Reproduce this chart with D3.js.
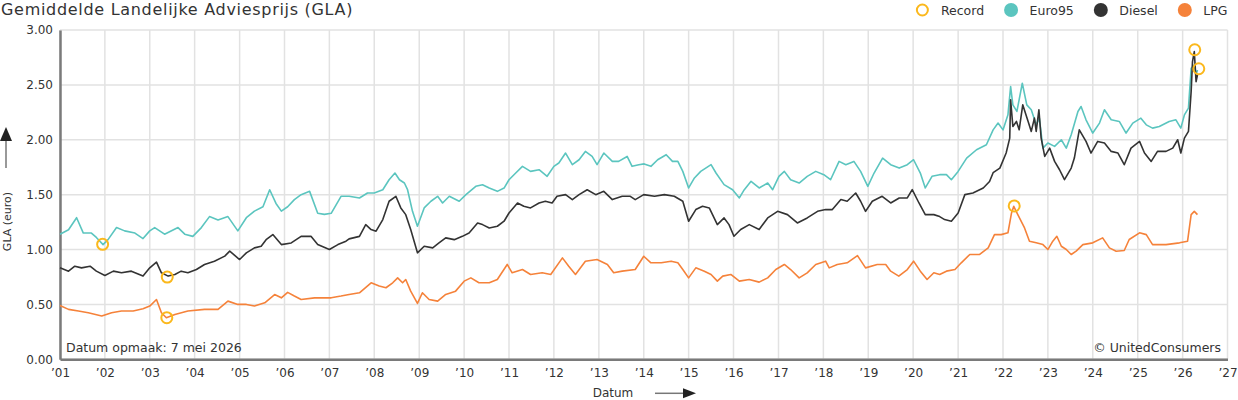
<!DOCTYPE html>
<html>
<head>
<meta charset="utf-8">
<script src="https://cdn.jsdelivr.net/npm/d3@7.9.0/dist/d3.min.js"></script>
<style>
  body { margin: 0; background: #fff; }
  svg { font-family: "DejaVu Sans", sans-serif; display: block; }
</style>
</head>
<body>
<svg id="chart" width="1238" height="400"></svg>
<script>
// values, [decimal year, price in euro]
const euro95 = [
  [2001.00,1.14],[2001.19,1.18],[2001.37,1.29],[2001.52,1.15],[2001.70,1.15],[2001.81,1.11],[2001.96,1.045],
  [2002.07,1.09],[2002.26,1.20],[2002.44,1.17],[2002.67,1.15],[2002.85,1.10],[2003.00,1.17],[2003.11,1.20],
  [2003.33,1.14],[2003.63,1.20],[2003.78,1.14],[2003.96,1.12],[2004.15,1.20],[2004.33,1.30],[2004.52,1.27],
  [2004.74,1.30],[2004.96,1.17],[2005.15,1.29],[2005.33,1.35],[2005.52,1.39],[2005.67,1.545],[2005.81,1.42],
  [2005.93,1.35],[2006.07,1.39],[2006.22,1.455],[2006.37,1.50],[2006.56,1.53],[2006.74,1.33],[2006.89,1.32],
  [2007.04,1.33],[2007.26,1.485],[2007.44,1.485],[2007.67,1.47],[2007.85,1.515],[2008.00,1.515],[2008.19,1.545],
  [2008.33,1.636],[2008.46,1.697],[2008.56,1.636],[2008.67,1.606],[2008.74,1.545],[2008.85,1.348],[2008.96,1.212],
  [2009.11,1.379],[2009.26,1.44],[2009.41,1.485],[2009.52,1.424],[2009.67,1.485],[2009.89,1.44],[2010.04,1.50],
  [2010.26,1.576],[2010.41,1.59],[2010.56,1.56],[2010.74,1.53],[2010.89,1.56],[2011.00,1.636],[2011.15,1.697],
  [2011.30,1.758],[2011.48,1.712],[2011.67,1.727],[2011.85,1.667],[2012.00,1.758],[2012.11,1.788],[2012.26,1.879],
  [2012.41,1.773],[2012.56,1.818],[2012.70,1.894],[2012.85,1.848],[2012.96,1.773],[2013.11,1.879],[2013.30,1.803],
  [2013.44,1.803],[2013.63,1.848],[2013.74,1.758],[2013.89,1.773],[2014.01,1.78],[2014.16,1.758],[2014.31,1.818],
  [2014.50,1.864],[2014.64,1.803],[2014.76,1.803],[2014.87,1.712],[2015.00,1.561],[2015.13,1.652],[2015.27,1.712],
  [2015.50,1.773],[2015.61,1.697],[2015.79,1.591],[2015.98,1.545],[2016.13,1.47],[2016.24,1.545],[2016.39,1.621],
  [2016.57,1.561],[2016.76,1.606],[2016.87,1.545],[2017.01,1.667],[2017.13,1.712],[2017.27,1.636],[2017.46,1.606],
  [2017.64,1.667],[2017.83,1.712],[2018.01,1.682],[2018.16,1.636],[2018.35,1.803],[2018.50,1.773],[2018.68,1.803],
  [2018.83,1.712],[2018.99,1.576],[2019.13,1.697],[2019.32,1.833],[2019.50,1.773],[2019.69,1.742],[2019.87,1.773],
  [2020.01,1.818],[2020.16,1.697],[2020.27,1.561],[2020.42,1.667],[2020.59,1.682],[2020.74,1.682],[2020.85,1.636],
  [2021.00,1.712],[2021.19,1.833],[2021.41,1.909],[2021.63,1.955],[2021.78,2.09],[2021.89,2.152],[2022.00,2.09],
  [2022.11,2.227],[2022.17,2.485],[2022.22,2.318],[2022.31,2.258],[2022.43,2.515],[2022.53,2.318],[2022.63,2.273],
  [2022.74,2.136],[2022.81,2.197],[2022.89,1.924],[2023.00,1.97],[2023.15,1.94],[2023.30,2.0],[2023.41,1.924],
  [2023.52,2.045],[2023.67,2.258],[2023.74,2.303],[2023.85,2.182],[2024.00,2.061],[2024.15,2.152],[2024.26,2.273],
  [2024.41,2.182],[2024.59,2.167],[2024.74,2.061],[2024.89,2.152],[2025.07,2.197],[2025.19,2.136],[2025.33,2.106],
  [2025.48,2.121],[2025.70,2.167],[2025.85,2.182],[2025.96,2.106],[2026.04,2.227],[2026.13,2.288],[2026.19,2.652],
  [2026.26,2.682],[2026.30,2.591],[2026.33,2.636]
];
const diesel = [
  [2001.00,0.833],[2001.19,0.803],[2001.33,0.848],[2001.48,0.833],[2001.67,0.848],[2001.81,0.803],[2002.00,0.764],
  [2002.19,0.803],[2002.37,0.788],[2002.59,0.803],[2002.85,0.758],[2003.00,0.833],[2003.15,0.885],[2003.26,0.788],
  [2003.41,0.758],[2003.56,0.773],[2003.70,0.803],[2003.85,0.788],[2004.04,0.818],[2004.22,0.864],[2004.44,0.894],
  [2004.67,0.94],[2004.78,0.985],[2005.00,0.909],[2005.15,0.97],[2005.33,1.015],[2005.48,1.03],[2005.59,1.09],
  [2005.74,1.136],[2005.93,1.045],[2006.15,1.06],[2006.37,1.12],[2006.59,1.12],[2006.74,1.045],[2007.00,1.0],
  [2007.19,1.045],[2007.37,1.076],[2007.44,1.097],[2007.67,1.12],[2007.81,1.227],[2007.93,1.182],[2008.04,1.167],
  [2008.19,1.273],[2008.33,1.44],[2008.48,1.485],[2008.59,1.379],[2008.70,1.318],[2008.81,1.182],[2008.96,0.97],
  [2009.11,1.03],[2009.30,1.015],[2009.44,1.06],[2009.59,1.106],[2009.78,1.09],[2009.96,1.12],[2010.11,1.15],
  [2010.30,1.242],[2010.41,1.227],[2010.56,1.197],[2010.74,1.212],[2010.89,1.258],[2011.00,1.333],[2011.19,1.424],
  [2011.33,1.394],[2011.48,1.379],[2011.67,1.424],[2011.81,1.44],[2011.96,1.424],[2012.07,1.485],[2012.26,1.50],
  [2012.41,1.455],[2012.56,1.50],[2012.74,1.545],[2012.93,1.50],[2013.11,1.53],[2013.30,1.455],[2013.52,1.485],
  [2013.70,1.485],[2013.81,1.455],[2014.00,1.50],[2014.24,1.485],[2014.46,1.50],[2014.68,1.485],[2014.87,1.44],
  [2015.00,1.258],[2015.16,1.364],[2015.31,1.394],[2015.46,1.379],[2015.64,1.227],[2015.79,1.288],[2015.90,1.227],
  [2016.01,1.121],[2016.16,1.182],[2016.35,1.227],[2016.57,1.182],[2016.76,1.288],[2016.98,1.348],[2017.20,1.318],
  [2017.42,1.242],[2017.64,1.288],[2017.87,1.348],[2018.05,1.364],[2018.20,1.364],[2018.39,1.455],[2018.53,1.44],
  [2018.72,1.515],[2018.83,1.44],[2018.94,1.348],[2019.09,1.44],[2019.31,1.485],[2019.50,1.424],[2019.69,1.47],
  [2019.87,1.47],[2019.98,1.545],[2020.13,1.424],[2020.27,1.318],[2020.46,1.318],[2020.59,1.30],[2020.70,1.273],
  [2020.85,1.258],[2021.00,1.333],[2021.15,1.5],[2021.33,1.515],[2021.56,1.561],[2021.70,1.62],[2021.78,1.70],
  [2021.93,1.742],[2022.07,1.879],[2022.15,2.015],[2022.17,2.364],[2022.22,2.121],[2022.30,2.167],[2022.36,2.091],
  [2022.44,2.318],[2022.56,2.167],[2022.63,2.076],[2022.70,2.197],[2022.74,2.076],[2022.80,2.273],[2022.85,2.015],
  [2022.93,1.848],[2023.04,1.924],[2023.15,1.803],[2023.26,1.727],[2023.37,1.636],[2023.52,1.742],[2023.59,1.833],
  [2023.70,2.091],[2023.85,1.985],[2023.96,1.879],[2024.11,1.985],[2024.26,1.97],[2024.41,1.894],[2024.56,1.879],
  [2024.70,1.773],[2024.85,1.924],[2025.04,1.985],[2025.15,1.879],[2025.30,1.803],[2025.44,1.894],[2025.63,1.894],
  [2025.78,1.924],[2025.89,2.0],[2025.96,1.879],[2026.04,2.015],[2026.13,2.076],[2026.19,2.44],[2026.22,2.712],
  [2026.26,2.803],[2026.30,2.53],[2026.33,2.59]
];
const lpg = [
  [2001.00,0.491],[2001.19,0.455],[2001.41,0.44],[2001.63,0.424],[2001.93,0.394],[2002.15,0.424],[2002.37,0.44],
  [2002.63,0.44],[2002.85,0.46],[2003.00,0.485],[2003.15,0.545],[2003.26,0.424],[2003.37,0.379],[2003.56,0.409],
  [2003.85,0.44],[2004.22,0.455],[2004.52,0.455],[2004.74,0.53],[2004.96,0.50],[2005.15,0.50],[2005.33,0.485],
  [2005.56,0.515],[2005.78,0.59],[2005.93,0.56],[2006.07,0.61],[2006.22,0.576],[2006.37,0.545],[2006.67,0.56],
  [2007.04,0.56],[2007.26,0.576],[2007.44,0.591],[2007.67,0.606],[2007.93,0.697],[2008.11,0.667],[2008.26,0.652],
  [2008.41,0.697],[2008.52,0.742],[2008.63,0.697],[2008.70,0.727],[2008.81,0.621],[2008.96,0.509],[2009.07,0.606],
  [2009.22,0.545],[2009.41,0.53],[2009.59,0.591],[2009.81,0.621],[2010.00,0.712],[2010.15,0.742],[2010.33,0.697],
  [2010.56,0.697],[2010.74,0.727],[2010.96,0.864],[2011.07,0.788],[2011.30,0.818],[2011.48,0.773],[2011.74,0.788],
  [2011.93,0.773],[2012.19,0.924],[2012.33,0.848],[2012.48,0.773],[2012.70,0.894],[2012.96,0.909],[2013.19,0.864],
  [2013.33,0.788],[2013.52,0.803],[2013.81,0.818],[2014.00,0.939],[2014.16,0.879],[2014.39,0.879],[2014.61,0.894],
  [2014.76,0.879],[2014.87,0.818],[2015.00,0.742],[2015.16,0.833],[2015.35,0.803],[2015.50,0.773],[2015.64,0.712],
  [2015.76,0.758],[2015.94,0.773],[2016.13,0.712],[2016.35,0.727],[2016.57,0.703],[2016.76,0.742],[2016.94,0.818],
  [2017.13,0.864],[2017.27,0.818],[2017.46,0.742],[2017.64,0.788],[2017.83,0.864],[2018.05,0.894],[2018.13,0.833],
  [2018.31,0.864],[2018.53,0.879],[2018.76,0.945],[2018.94,0.833],[2019.20,0.864],[2019.39,0.864],[2019.50,0.803],
  [2019.68,0.758],[2019.87,0.818],[2020.01,0.894],[2020.16,0.803],[2020.31,0.727],[2020.46,0.788],[2020.59,0.773],
  [2020.74,0.803],[2020.93,0.818],[2021.07,0.879],[2021.26,0.955],[2021.48,0.955],[2021.67,1.015],[2021.81,1.136],
  [2021.96,1.136],[2022.11,1.152],[2022.19,1.333],[2022.24,1.394],[2022.33,1.318],[2022.48,1.197],[2022.59,1.076],
  [2022.74,1.061],[2022.89,1.045],[2023.00,1.0],[2023.11,1.076],[2023.20,1.121],[2023.30,1.03],[2023.41,1.0],
  [2023.52,0.955],[2023.63,0.985],[2023.78,1.045],[2024.00,1.061],[2024.22,1.106],[2024.37,1.015],[2024.52,0.985],
  [2024.70,0.991],[2024.81,1.091],[2025.04,1.152],[2025.19,1.136],[2025.33,1.045],[2025.63,1.045],[2025.93,1.061],
  [2026.11,1.076],[2026.19,1.318],[2026.26,1.348],[2026.33,1.318]
];
// record lows / highs
const records = [
  [2001.95,1.047],[2003.39,0.749],[2003.38,0.379],[2022.25,1.397],[2026.27,2.82],[2026.36,2.647]
];
const yTicks = [0, 0.5, 1, 1.5, 2, 2.5, 3];
const legendLabels = ['Record', 'Euro95', 'Diesel', 'LPG'];
const legendColors = ['#fbb81c', '#5bc5bf', '#333333', '#f5823a'];

const width = 1238, height = 400;
const margin = { top: 30, right: 10.5, bottom: 40.7, left: 60 };
const font = '"DejaVu Sans", sans-serif';

function toDate(y) {
  const yr = Math.floor(y);
  const a = new Date(yr, 0, 1), b = new Date(yr + 1, 0, 1);
  return new Date(+a + (y - yr) * (b - a));
}

const svg = d3.select('#chart');

const x = d3.scaleTime()
  .domain([new Date(2001, 0, 1), new Date(2027, 0, 1)])
  .range([margin.left, width - margin.right]);
const y = d3.scaleLinear()
  .domain([0, 3])
  .range([height - margin.bottom, margin.top]);

const years = d3.timeYear.range(new Date(2001, 0, 1), new Date(2027, 0, 2));

// grid
svg.append('g').selectAll('line').data(years).join('line')
  .attr('x1', d => x(d)).attr('x2', d => x(d))
  .attr('y1', margin.top).attr('y2', height - margin.bottom)
  .attr('stroke', '#e2e2e2').attr('stroke-width', 1.5);
svg.append('g').selectAll('line').data(yTicks).join('line')
  .attr('x1', margin.left).attr('x2', width - margin.right)
  .attr('y1', d => y(d)).attr('y2', d => y(d))
  .attr('stroke', '#e2e2e2').attr('stroke-width', 1.5);

// axes
const xAxis = svg.append('g')
  .attr('transform', `translate(0,${height - margin.bottom})`)
  .call(d3.axisBottom(x).tickValues(years).tickSize(0).tickPadding(9)
    .tickFormat(d => '\u2019' + d3.timeFormat('%y')(d)));
const yAxis = svg.append('g')
  .attr('transform', `translate(${margin.left},0)`)
  .call(d3.axisLeft(y).tickValues(yTicks).tickSize(0).tickPadding(7).tickFormat(d3.format('.2f')));
[xAxis, yAxis].forEach(g => {
  g.select('.domain').attr('stroke', '#7a7a7a').attr('stroke-width', 2.5);
  g.selectAll('text').attr('fill', '#333').attr('font-size', 12).attr('font-family', font);
});

// lines
const line = d3.line().x(d => x(toDate(d[0]))).y(d => y(d[1]));
[[euro95, legendColors[1]], [diesel, legendColors[2]], [lpg, legendColors[3]]].forEach(([data, c]) => {
  svg.append('path').datum(data)
    .attr('d', line)
    .attr('fill', 'none')
    .attr('stroke', c)
    .attr('stroke-width', 1.6)
    .attr('stroke-linejoin', 'round');
});

// record markers
svg.append('g').selectAll('circle').data(records).join('circle')
  .attr('cx', d => x(toDate(d[0])))
  .attr('cy', d => y(d[1]))
  .attr('r', 5.5)
  .attr('fill', 'none')
  .attr('stroke', legendColors[0])
  .attr('stroke-width', 2);

// title
svg.append('text')
  .attr('x', 1).attr('y', 15)
  .attr('font-size', 16).attr('fill', '#333')
  .attr('letter-spacing', 0.7)
  .text('Gemiddelde Landelijke Adviesprijs (GLA)');

// legend, right aligned
const legend = svg.append('g');
const items = legend.selectAll('g').data(legendLabels).join('g');
items.append('circle')
  .attr('r', d => d === 'Record' ? 5.5 : 7)
  .attr('cy', 10)
  .attr('fill', (d, i) => d === 'Record' ? 'none' : legendColors[i])
  .attr('stroke', (d, i) => legendColors[i])
  .attr('stroke-width', d => d === 'Record' ? 2 : 0);
items.append('text')
  .attr('x', 18.5).attr('y', 14.5)
  .attr('font-size', 12.5).attr('fill', '#333')
  .text(d => d);
let pos = width - 10.5;
items.nodes().reverse().forEach(n => {
  const w = d3.select(n).select('text').node().getComputedTextLength();
  pos -= w + 18.5;
  d3.select(n).attr('transform', `translate(${pos},0)`);
  pos -= 27;
});

// y-axis label and arrow
svg.append('text')
  .attr('transform', 'translate(10.5,221.5) rotate(-90)')
  .attr('text-anchor', 'middle')
  .attr('font-size', 11).attr('fill', '#333')
  .text('GLA (euro)');
svg.append('line')
  .attr('x1', 6).attr('x2', 6).attr('y1', 168).attr('y2', 138)
  .attr('stroke', '#777').attr('stroke-width', 1.5);
svg.append('path')
  .attr('d', 'M0,141L12,141L6,127Z')
  .attr('fill', '#222');

// x-axis label and arrow
svg.append('text')
  .attr('x', 613).attr('y', 397)
  .attr('text-anchor', 'middle')
  .attr('font-size', 12).attr('fill', '#333')
  .text('Datum');
svg.append('line')
  .attr('x1', 655).attr('x2', 686).attr('y1', 393.3).attr('y2', 393.3)
  .attr('stroke', '#777').attr('stroke-width', 1.5);
svg.append('path')
  .attr('d', 'M683,388.3L683,398.3L696,393.3Z')
  .attr('fill', '#222');

// footnotes
svg.append('text')
  .attr('x', 66).attr('y', 352)
  .attr('font-size', 12.5).attr('fill', '#333')
  .text('Datum opmaak: 7 mei 2026');
svg.append('text')
  .attr('x', 1221).attr('y', 352)
  .attr('text-anchor', 'end')
  .attr('font-size', 12.5).attr('fill', '#333')
  .text('\u00a9 UnitedConsumers');
</script>
</body>
</html>
